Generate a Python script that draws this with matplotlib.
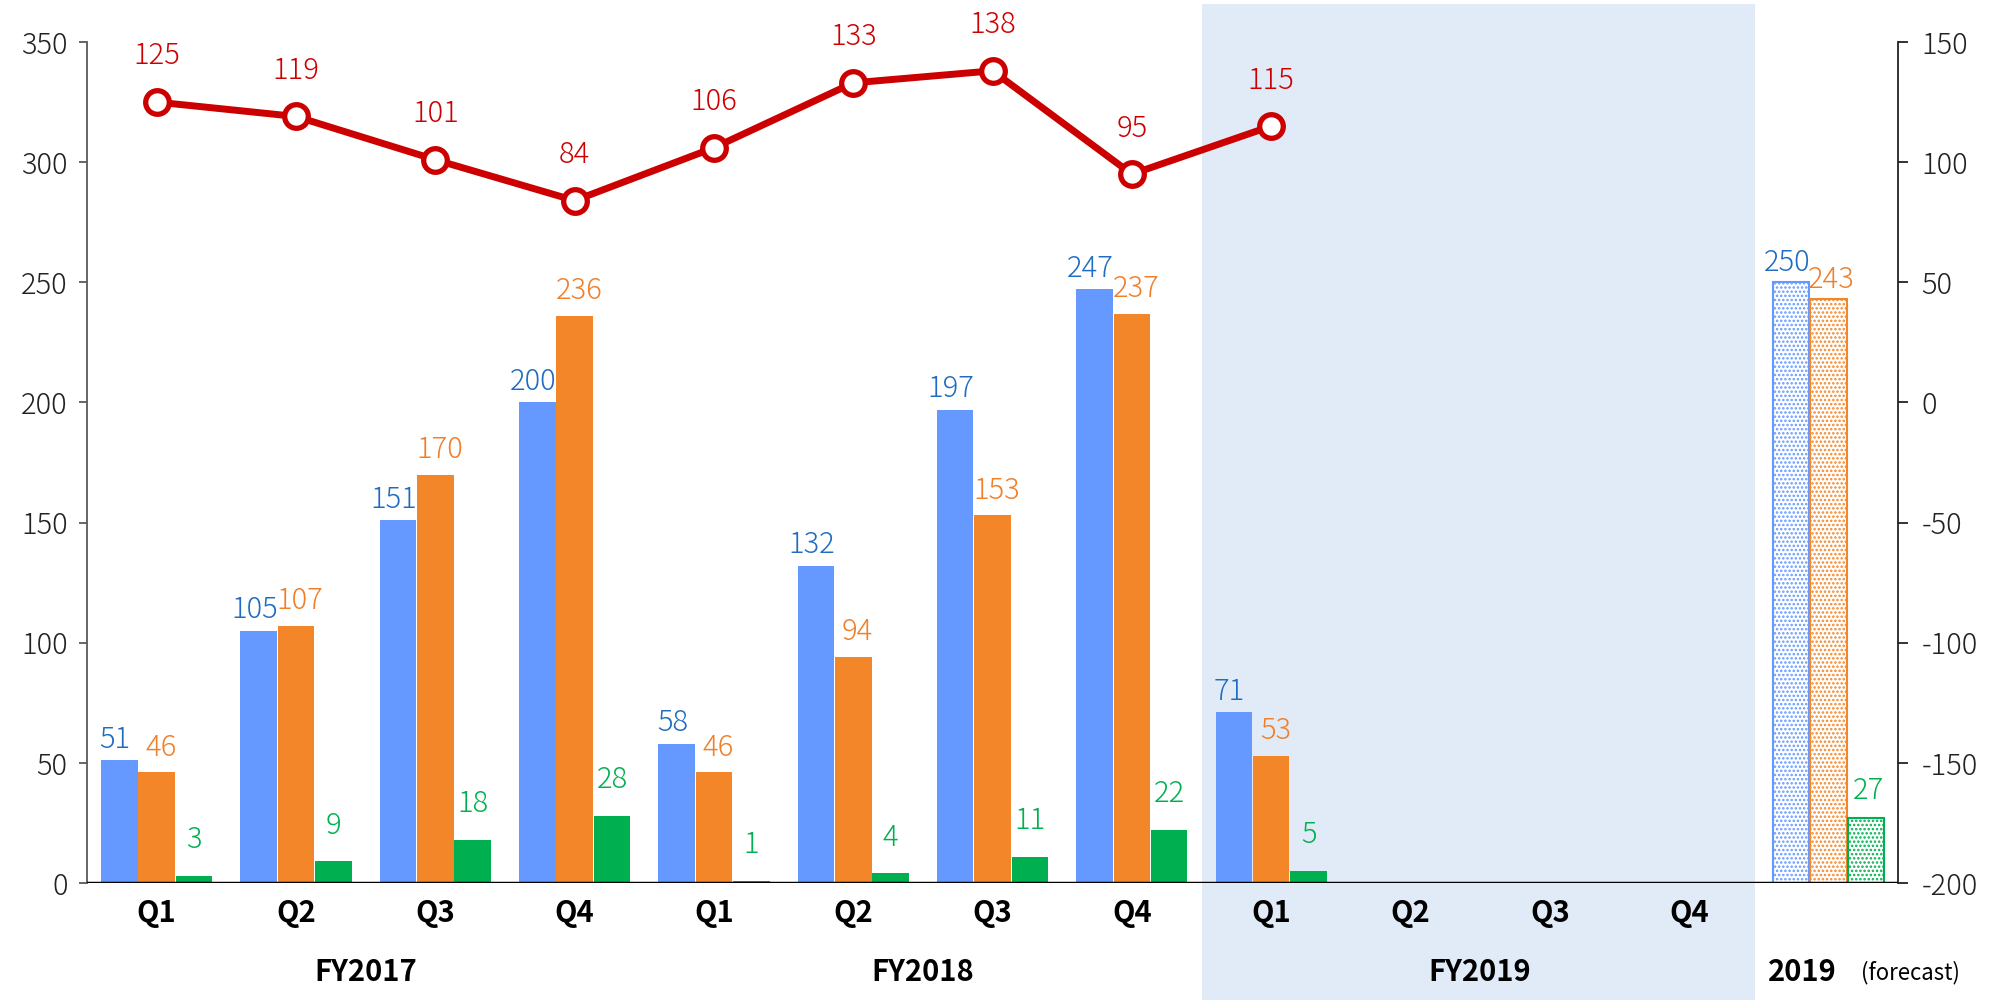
import matplotlib
matplotlib.use('Agg')
import matplotlib.pyplot as plt
from matplotlib.patches import Rectangle
import matplotlib.transforms as mtransforms

plt.rcParams['font.family'] = ['Noto Sans CJK JP', 'DejaVu Sans']
plt.rcParams['axes.unicode_minus'] = False
plt.rcParams['hatch.linewidth'] = 1.2

# ---- data ----
quarters = ['Q1', 'Q2', 'Q3', 'Q4', 'Q1', 'Q2', 'Q3', 'Q4', 'Q1', 'Q2', 'Q3', 'Q4']
fiscal_years = ['FY2017', 'FY2018', 'FY2019']
series_blue = [51, 105, 151, 200, 58, 132, 197, 247, 71]
series_orange = [46, 107, 170, 236, 46, 94, 153, 237, 53]
series_green = [3, 9, 18, 28, 1, 4, 11, 22, 5]
forecast_values = [250, 243, 27]
forecast_label = '2019'
forecast_note = '(forecast)'
line_values = [125, 119, 101, 84, 106, 133, 138, 95, 115]
left_ticks = [0, 50, 100, 150, 200, 250, 300, 350]
right_ticks = [-200, -150, -100, -50, 0, 50, 100, 150]

# ---- styles ----
c_blue, c_orange, c_green = '#6699FF', '#F4862A', '#00B050'
t_blue, t_orange, t_green = '#1F6CC0', '#F07F2A', '#00B050'
c_red = '#CC0000'
shade = '#E1EBF7'
fs = 21
nw = 'light'

fig = plt.figure(figsize=(20.06, 10), dpi=100)
ax = fig.add_axes([0.0434, 0.117, 0.9028, 0.841])
ax.set_xlim(-0.5, 12.5)
ax.set_ylim(0, 350)

trans = mtransforms.blended_transform_factory(ax.transData, ax.transAxes)
ax.add_patch(Rectangle((7.5, -0.14), 3.97, 1.185, transform=trans,
                       facecolor=shade, edgecolor='none', zorder=0, clip_on=False))

w = 0.268
bw = 0.262
n = len(series_blue)
xs = list(range(n))
ax.bar([x - w for x in xs], series_blue, width=bw, color=c_blue, zorder=2)
ax.bar(xs, series_orange, width=bw, color=c_orange, zorder=2)
ax.bar([x + w for x in xs], series_green, width=bw, color=c_green, zorder=2)

fx = 12
ax.bar(fx - w, forecast_values[0], width=bw, facecolor='white', edgecolor=c_blue,
       hatch='....', lw=1.5, zorder=2)
ax.bar(fx, forecast_values[1], width=bw, facecolor='white', edgecolor=c_orange,
       hatch='....', lw=1.5, zorder=2)
ax.bar(fx + w, forecast_values[2], width=bw, facecolor='white', edgecolor=c_green,
       hatch='....', lw=1.5, zorder=2)

for i in range(n):
    ax.annotate(str(series_blue[i]), (i - w, series_blue[i]), xytext=(-3, 15),
                textcoords='offset points', ha='center', va='center',
                color=t_blue, fontsize=fs, fontweight=nw, zorder=4)
    ax.annotate(str(series_orange[i]), (i, series_orange[i]), xytext=(3, 18),
                textcoords='offset points', ha='center', va='center',
                color=t_orange, fontsize=fs, fontweight=nw, zorder=4)
    ax.annotate(str(series_green[i]), (i + w, series_green[i]), xytext=(0, 26),
                textcoords='offset points', ha='center', va='center',
                color=t_green, fontsize=fs, fontweight=nw, zorder=4)
ax.annotate(str(forecast_values[0]), (fx - w, forecast_values[0]), xytext=(-3, 14),
            textcoords='offset points', ha='center', va='center', color=t_blue,
            fontsize=fs, fontweight=nw)
ax.annotate(str(forecast_values[1]), (fx, forecast_values[1]), xytext=(2, 14),
            textcoords='offset points', ha='center', va='center', color=t_orange,
            fontsize=fs, fontweight=nw)
ax.annotate(str(forecast_values[2]), (fx + w, forecast_values[2]), xytext=(2, 20),
            textcoords='offset points', ha='center', va='center', color=t_green,
            fontsize=fs, fontweight=nw)

ax.axhline(0, color='black', lw=2.5, zorder=3)

ax.set_yticks(left_ticks)
ax.set_xticks([])
for s in ['top', 'bottom', 'right']:
    ax.spines[s].set_visible(False)
ax.spines['left'].set_color('#595959')
ax.spines['left'].set_linewidth(1.3)
ax.tick_params(axis='y', direction='out', length=6, width=1.3, color='#595959',
               labelsize=fs, pad=8, labelcolor='#222222')
for lab in ax.get_yticklabels():
    lab.set_fontweight(nw)

for i, q in enumerate(quarters):
    ax.text(i, -0.036, q, transform=trans, ha='center', va='center',
            fontsize=fs, fontweight='bold', color='black')
for j, fy in enumerate(fiscal_years):
    ax.text(1.5 + 4 * j, -0.106, fy, transform=trans, ha='center', va='center',
            fontsize=fs, fontweight='bold', color='black')
ax.text(11.81, -0.106, forecast_label, transform=trans, ha='center', va='center',
        fontsize=fs, fontweight='bold', color='black')
ax.text(12.59, -0.106, forecast_note, transform=trans, ha='center', va='center',
        fontsize=16, color='black', clip_on=False)

ax2 = ax.twinx()
ax2.set_ylim(-200, 150)
ax2.set_yticks(right_ticks)
for s in ['top', 'bottom', 'left']:
    ax2.spines[s].set_visible(False)
ax2.spines['right'].set_color('#222222')
ax2.spines['right'].set_linewidth(1.3)
ax2.tick_params(axis='y', direction='out', length=7, width=1.3, color='#222222',
                labelsize=fs, pad=10, labelcolor='#222222')
for lab in ax2.get_yticklabels():
    lab.set_fontweight(nw)

ax2.plot(range(len(line_values)), line_values, color=c_red, lw=5, marker='o',
         ms=17, mfc='white', mec=c_red, mew=3.8, zorder=5)
for i, v in enumerate(line_values):
    ax2.annotate(str(v), (i, v), xytext=(0, 33), textcoords='offset points',
                 ha='center', va='center', color=c_red, fontsize=fs, fontweight=nw)

fig.savefig('out.png', dpi=100)
